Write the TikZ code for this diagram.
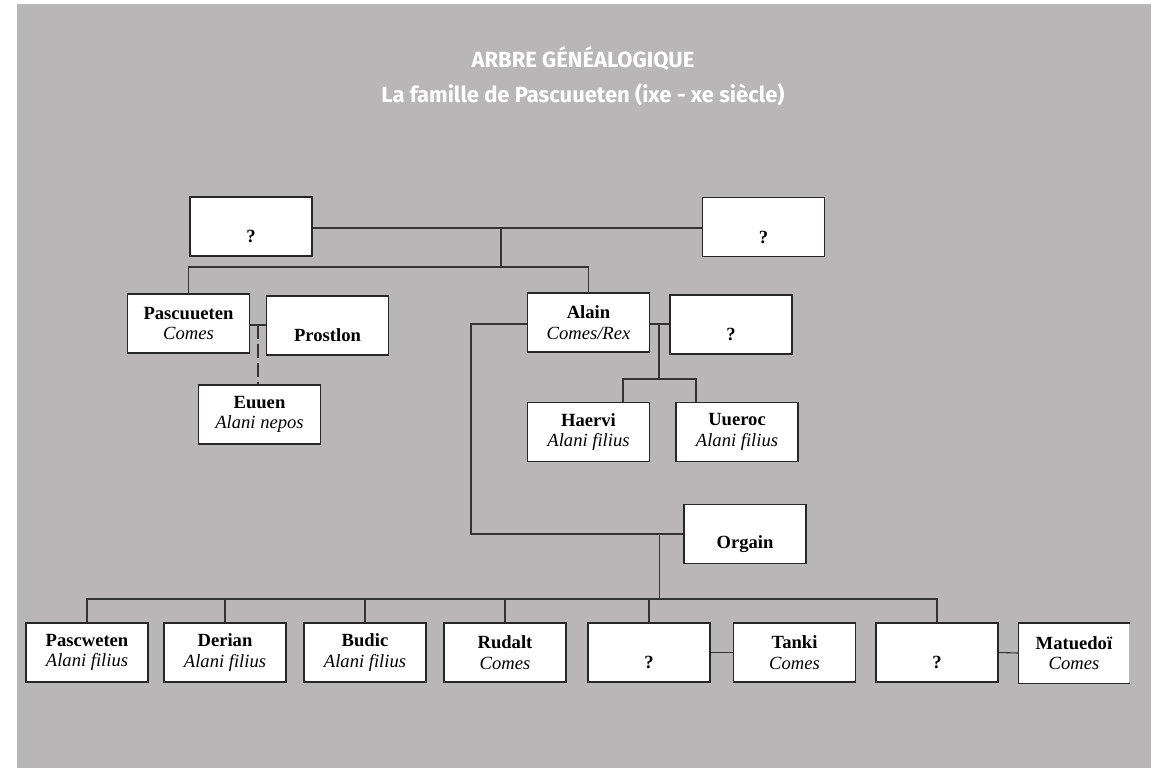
\documentclass[tikz,border=0pt]{standalone}
\usepackage{fontspec}
\setmainfont{Liberation Serif}
\newfontfamily\titlefont{Fira Sans}
\definecolor{bg}{RGB}{184,182,183}
\newcommand\mononame[1]{\phantom{X}\\\textbf{#1}}
\newcommand\duoname[2]{\textbf{#1}\\\textit{#2}}
\begin{document}
\begin{tikzpicture}[x=1pt,y=-1pt,
  box/.style={draw=black!85, fill=white, line width=1.1pt, minimum width=122pt, minimum height=59pt, inner sep=0pt, align=center, font=\fontsize{18.6}{20.5}\selectfont},
  link/.style={draw=black!80, line width=1.1pt},
  ttl/.style={text=white, font=\titlefont\bfseries\fontsize{22}{24}\selectfont, anchor=base}]
\useasboundingbox (0,0) rectangle (1158,768);
\fill[bg] (17,4) rectangle (1151,768);

\node[ttl] (t1) at (583,67) {ARBRE GÉNÉALOGIQUE};
\node[ttl] (t2) at (583,102) {La famille de Pascuueten (ixe - xe siècle)};

\node[box] (q1) at (251,226.5) {\mononame{?}};
\node[box] (q2) at (763.5,227) {\mononame{?}};
\node[box] (pasc) at (188.5,323.5) {\duoname{Pascuueten}{Comes}};
\node[box] (prost) at (327.5,325.5) {\mononame{Prostlon}};
\node[box] (euuen) at (259.5,414.5) {\duoname{Euuen}{Alani nepos}};
\node[box] (alain) at (588.5,322.5) {\duoname{Alain}{Comes/Rex}};
\node[box] (q3) at (731,324.5) {\mononame{?}};
\node[box] (haervi) at (588.5,432) {\duoname{Haervi}{Alani filius}};
\node[box] (uueroc) at (737,432) {\duoname{Uueroc}{Alani filius}};
\node[box] (orgain) at (745,534) {\mononame{Orgain}};

\node[box] (pascweten) at (87,652.5) {\duoname{Pascweten}{Alani filius}};
\node[box] (derian) at (225,652.5) {\duoname{Derian}{Alani filius}};
\node[box] (budic) at (365,652.5) {\duoname{Budic}{Alani filius}};
\node[box] (rudalt) at (505,652.5) {\duoname{Rudalt}{Comes}};
\node[box] (q5) at (649,652.5) {\mononame{?}};
\node[box] (tanki) at (794.5,652.5) {\duoname{Tanki}{Comes}};
\node[box] (q6) at (937,652.5) {\mononame{?}};
\node[box, draw=none, minimum width=110pt] (matuedoi) at (1074,653) {\duoname{Matuedoï}{Comes}};
\draw[draw=black!85, line width=1.1pt] (matuedoi.north east) -- (matuedoi.north west) -- (matuedoi.south west) -- (matuedoi.south east);

% top couple
\coordinate (m1) at (501,228);
\coordinate (j1) at (501,267);
\draw[link] (q1.east |- m1) -- (q2.west |- m1);
\draw[link] (m1) -- (j1);
\draw[link] (pasc.north) |- (j1) -| (alain.north);

% Pascuueten + Prostlon
\coordinate (m2) at (258,325);
\draw[link] (pasc.east |- m2) -- (prost.west |- m2);
\draw[link, dash pattern=on 14pt off 5pt] (m2) -- (euuen.north -| m2);

% Alain + ?
\coordinate (m3) at (659,324);
\coordinate (j3) at (659,379);
\coordinate (h1) at (623,379);
\coordinate (h2) at (696,379);
\draw[link] (alain.east |- m3) -- (q3.west |- m3);
\draw[link] (m3) -- (j3);
\draw[link] (haervi.north -| h1) |- (h2) -- (uueroc.north -| h2);

% Alain + Orgain
\coordinate (m4) at (659.5,534);
\coordinate (bus) at (659.5,599);
\draw[link] (alain.west |- m3) -- ++(-56,0) |- (orgain.west);
\draw[link] (m4) -- (bus);
\draw[link] (pascweten.north) |- (bus) -| (q6.north);
\foreach \n in {derian,budic,rudalt,q5}
  \draw[link] (\n.north) -- (\n.north |- bus);

\draw[link] (q5.east) -- (tanki.west);
\draw[link] (q6.east) -- (matuedoi.west);
\end{tikzpicture}
\end{document}
